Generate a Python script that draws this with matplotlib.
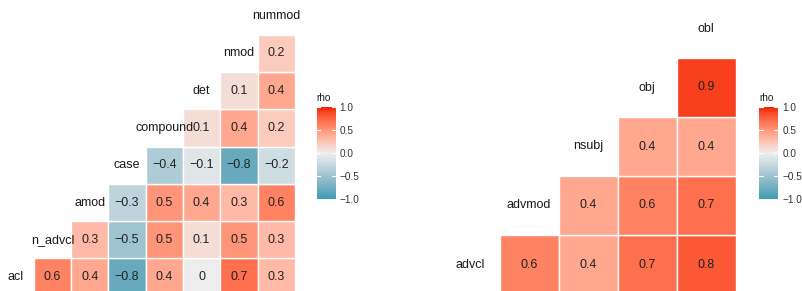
import numpy as np
import matplotlib.pyplot as plt
from matplotlib.colors import ListedColormap, Normalize
from matplotlib.patches import Rectangle
import matplotlib.cm as cm

plt.rcParams['font.family'] = ['Liberation Sans', 'DejaVu Sans']

# left panel: variable names (bottom to top) and lower-triangle values per row
left_vars = ['acl', 'n_advcl', 'amod', 'case', 'compound', 'det', 'nmod', 'nummod']
left_rows = [
    [0.6, 0.4, -0.8, 0.4, 0, 0.7, 0.3],
    [0.3, -0.5, 0.5, 0.1, 0.5, 0.3],
    [-0.3, 0.5, 0.4, 0.3, 0.6],
    [-0.4, -0.1, -0.8, -0.2],
    [0.1, 0.4, 0.2],
    [0.1, 0.4],
    [0.2],
]

# right panel
right_vars = ['advcl', 'advmod', 'nsubj', 'obj', 'obl']
right_rows = [
    [0.6, 0.4, 0.7, 0.8],
    [0.4, 0.6, 0.7],
    [0.4, 0.4],
    [0.9],
]

legend_ticks = [-1.0, -0.5, 0.0, 0.5, 1.0]

# ggcorr default palette, interpolated in Lab like scale_fill_gradient2
LOW, MID, HIGH = '#3B9AB2', '#EEEEEE', '#F21A00'


def hex2rgb(h):
    return np.array([int(h[i:i + 2], 16) for i in (1, 3, 5)]) / 255.0


M = np.array([[0.4124564, 0.3575761, 0.1804375],
              [0.2126729, 0.7151522, 0.0721750],
              [0.0193339, 0.1191920, 0.9503041]])
WHITE = M @ np.ones(3)


def rgb2lab(c):
    lin = np.where(c <= 0.04045, c / 12.92, ((c + 0.055) / 1.055) ** 2.4)
    xyz = M @ lin / WHITE
    f = np.where(xyz > 216 / 24389, np.cbrt(xyz), (24389 / 27 * xyz + 16) / 116)
    return np.array([116 * f[1] - 16, 500 * (f[0] - f[1]), 200 * (f[1] - f[2])])


def lab2rgb(lab):
    fy = (lab[0] + 16) / 116
    fx = fy + lab[1] / 500
    fz = fy - lab[2] / 200
    f = np.array([fx, fy, fz])
    xyz = np.where(f ** 3 > 216 / 24389, f ** 3, (116 * f - 16) / (24389 / 27)) * WHITE
    lin = np.linalg.solve(M, xyz)
    c = np.where(lin <= 0.0031308, 12.92 * lin, 1.055 * np.clip(lin, 0, None) ** (1 / 2.4) - 0.055)
    return np.clip(c, 0, 1)


lo, mi, hi = rgb2lab(hex2rgb(LOW)), rgb2lab(hex2rgb(MID)), rgb2lab(hex2rgb(HIGH))
cols = []
for t in np.linspace(-1, 1, 256):
    if t < 0:
        cols.append(lab2rgb(mi + (lo - mi) * (-t)))
    else:
        cols.append(lab2rgb(mi + (hi - mi) * t))
cmap = ListedColormap(cols)
norm = Normalize(-1, 1)

W, H = 802, 291
fig = plt.figure(figsize=(W / 100, H / 100), dpi=100)


def fmt(v):
    return ('%g' % v).replace('-', '\u2212')


def panel(x0, top, cell, names, rows, fs):
    n = len(rows)
    bottom = top + n * cell
    ax = fig.add_axes([x0 / W, (H - bottom) / H, n * cell / W, n * cell / H])
    ax.set_xlim(0, n)
    ax.set_ylim(0, n)
    ax.axis('off')
    for r, vals in enumerate(rows):
        for k, v in enumerate(vals):
            c = r + k
            ax.add_patch(Rectangle((c, r), 1, 1, facecolor=cmap(norm(v)),
                                   edgecolor='white', linewidth=1, clip_on=False))
            ax.text(c + 0.5, r + 0.5, fmt(v), ha='center', va='center',
                    fontsize=fs, color='#222222', clip_on=False)
    for r, name in enumerate(names):
        ax.text(r - 0.5, r + 0.5, name, ha='center', va='center',
                fontsize=fs, color='#1a1a1a', clip_on=False)
    return ax


def colorbar(x0, y0, y1):
    cax = fig.add_axes([x0 / W, (H - y1) / H, 19 / W, (y1 - y0) / H])
    cb = fig.colorbar(cm.ScalarMappable(norm=norm, cmap=cmap), cax=cax, ticks=legend_ticks)
    cb.outline.set_visible(False)
    cb.ax.tick_params(length=0, labelsize=7.2, pad=3, labelcolor='#333333')
    cb.ax.set_yticklabels([fmt(t) if t % 1 else fmt(t) + '.0' for t in legend_ticks])
    for t in legend_ticks:
        cax.plot([0, 0.2], [t, t], color='white', lw=0.8, transform=cax.get_yaxis_transform())
        cax.plot([0.8, 1], [t, t], color='white', lw=0.8, transform=cax.get_yaxis_transform())
    cax.text(0, 1.04, 'rho', transform=cax.transAxes, fontsize=7.2, ha='left',
             va='bottom', color='#1a1a1a')


panel(33.8, 34.7, 37.3, left_vars, left_rows, 9)
panel(499.5, 58.0, 59.0, right_vars, right_rows, 9)
colorbar(316.5, 107, 199)
colorbar(759, 107, 199)

fig.savefig('out.png', dpi=100)
